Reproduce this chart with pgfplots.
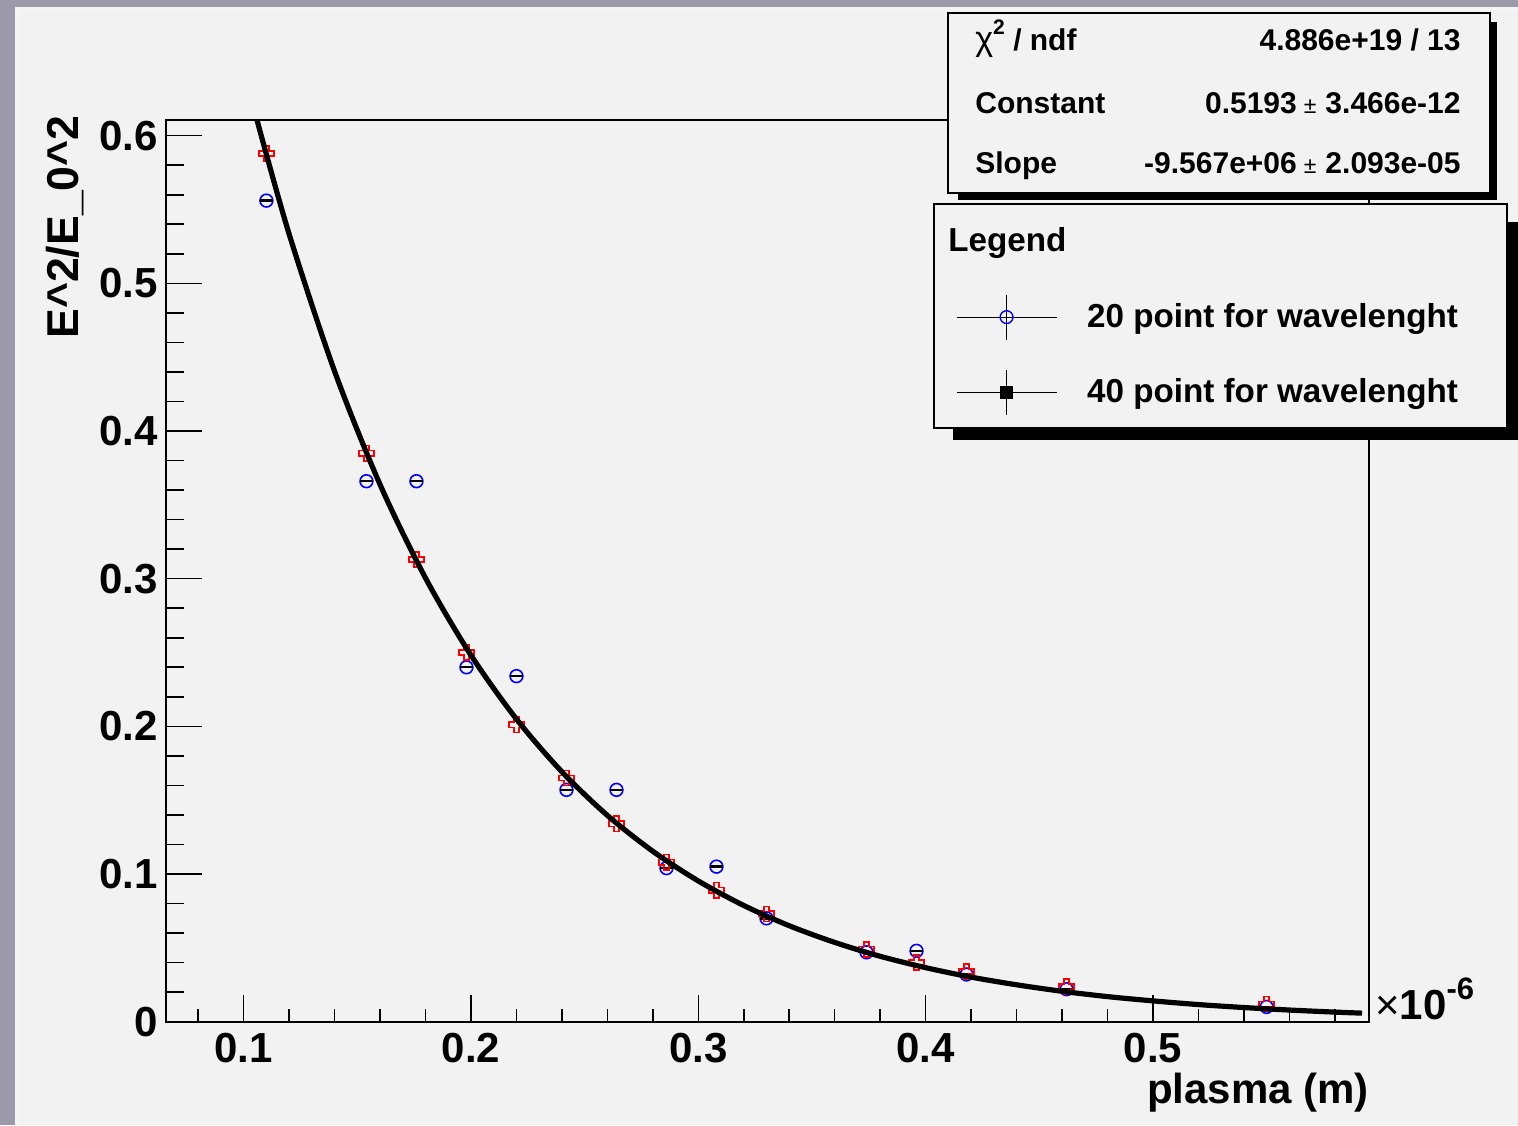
\documentclass[border=0pt]{standalone}
\usepackage{fontspec}
\setmainfont{Liberation Sans}
\usepackage{pgfplots}
\pgfplotsset{compat=1.18}
\definecolor{framegray}{RGB}{155,153,170}
\definecolor{canvas}{RGB}{242,242,242}
\pgfdeclareplotmark{ocross}{%
  \pgfpathmoveto{\pgfqpoint{-0.35\pgfplotmarksize}{\pgfplotmarksize}}%
  \pgfpathlineto{\pgfqpoint{0.35\pgfplotmarksize}{\pgfplotmarksize}}%
  \pgfpathlineto{\pgfqpoint{0.35\pgfplotmarksize}{0.35\pgfplotmarksize}}%
  \pgfpathlineto{\pgfqpoint{\pgfplotmarksize}{0.35\pgfplotmarksize}}%
  \pgfpathlineto{\pgfqpoint{\pgfplotmarksize}{-0.35\pgfplotmarksize}}%
  \pgfpathlineto{\pgfqpoint{0.35\pgfplotmarksize}{-0.35\pgfplotmarksize}}%
  \pgfpathlineto{\pgfqpoint{0.35\pgfplotmarksize}{-\pgfplotmarksize}}%
  \pgfpathlineto{\pgfqpoint{-0.35\pgfplotmarksize}{-\pgfplotmarksize}}%
  \pgfpathlineto{\pgfqpoint{-0.35\pgfplotmarksize}{-0.35\pgfplotmarksize}}%
  \pgfpathlineto{\pgfqpoint{-\pgfplotmarksize}{-0.35\pgfplotmarksize}}%
  \pgfpathlineto{\pgfqpoint{-\pgfplotmarksize}{0.35\pgfplotmarksize}}%
  \pgfpathlineto{\pgfqpoint{-0.35\pgfplotmarksize}{0.35\pgfplotmarksize}}%
  \pgfpathclose
  \pgfusepathqstroke
}
\begin{document}
\begin{tikzpicture}
\useasboundingbox (0,0) rectangle (759pt,562.5pt);
\fill[framegray] (0,0) rectangle (759pt,562.5pt);
\fill[white!96!black] (7.5pt,0) rectangle (759pt,559pt);
\fill[canvas] (9.5pt,0) rectangle (759pt,557pt);
\begin{axis}[
  at={(83pt,51.65pt)}, anchor=south west,
  width=601.65pt, height=450.85pt, scale only axis,
  clip mode=individual,
  xmin=0.06582, xmax=0.5952, ymin=0, ymax=0.6106,
  axis line style={line width=1pt},
  tick pos=left, tick align=inside,
  xtick={0.1,0.2,0.3,0.4,0.5},
  ytick={0,0.1,0.2,0.3,0.4,0.5,0.6},
  minor xtick={0.08,0.1,...,0.59},
  minor ytick={0.02,0.04,...,0.61},
  xtick style={/pgfplots/major tick length=13.5pt, /pgfplots/minor tick length=6.5pt, line width=0.8pt, black},
  ytick style={/pgfplots/major tick length=18pt, /pgfplots/minor tick length=9pt, line width=0.8pt, black},
  /pgf/number format/assume math mode=true,
  tick label style={font=\fontsize{21}{25}\selectfont\bfseries},
  xticklabel style={inner sep=0pt, yshift=-5.5pt},
  yticklabel style={inner sep=0pt, xshift=-4pt},
  xlabel={plasma (m)},
  xlabel style={at={(axis description cs:1,-0.0569)}, anchor=north east, inner sep=0pt, font=\fontsize{21}{25}\selectfont\bfseries},
  ylabel={E\textasciicircum 2/E\_0\textasciicircum 2},
  ylabel style={at={(axis description cs:-0.0839,1.0055)}, anchor=east, inner sep=0pt, font=\fontsize{22.3}{26}\selectfont\bfseries},
  legend style={at={(axis description cs:0.6565,0.8070)}, anchor=north west, draw=none, fill=none,
    inner sep=0pt, outer sep=0pt, row sep=14.5pt, nodes={inner sep=0pt},
    font=\fontsize{16.6}{19}\selectfont\bfseries,
    /tikz/every odd column/.append style={column sep=15pt}},
  legend cell align=left,
]
% 20 points per wavelength (blue circles)
\addplot[forget plot, only marks, mark=o, mark size=3.2pt, blue, mark options={line width=0.8pt}] coordinates {
(0.110,0.556) (0.154,0.366) (0.176,0.366) (0.198,0.240) (0.220,0.234)
(0.242,0.157) (0.264,0.157) (0.286,0.104) (0.308,0.105) (0.330,0.070)
(0.374,0.047) (0.396,0.048) (0.418,0.032) (0.462,0.022) (0.550,0.010)};
\addplot[forget plot, only marks, mark=-, mark size=3.2pt, black, mark options={line width=1.2pt}] coordinates {
(0.110,0.556) (0.154,0.366) (0.176,0.366) (0.198,0.240) (0.220,0.234)
(0.242,0.157) (0.264,0.157) (0.286,0.104) (0.308,0.105) (0.330,0.070)
(0.374,0.047) (0.396,0.048) (0.418,0.032) (0.462,0.022) (0.550,0.010)};
% 40 points per wavelength (red open crosses)
\addplot[forget plot, only marks, mark=ocross, mark size=3.8pt, red, mark options={line width=0.8pt}] coordinates {
(0.110,0.588) (0.154,0.385) (0.176,0.313) (0.198,0.250) (0.220,0.201)
(0.242,0.165) (0.264,0.134) (0.286,0.108) (0.308,0.089) (0.330,0.073)
(0.374,0.049) (0.396,0.040) (0.418,0.034) (0.462,0.0237) (0.550,0.0120)};
% fitted curve
\addplot[forget plot, black, line width=2.6pt, smooth] coordinates {
(0.1058,0.6109) (0.12,0.5333) (0.14,0.4404) (0.16,0.3637) (0.18,0.3004)
(0.20,0.2481) (0.22,0.2049) (0.24,0.1692) (0.26,0.1397) (0.28,0.1154)
(0.30,0.0953) (0.32,0.0787) (0.34,0.0650) (0.36,0.0537) (0.38,0.0443)
(0.40,0.0366) (0.42,0.0302) (0.44,0.0250) (0.46,0.0206) (0.48,0.0170)
(0.50,0.0141) (0.52,0.0116) (0.54,0.0096) (0.56,0.0079) (0.58,0.0065)
(0.592,0.0058)};
% stats box
\fill[black] (axis description cs:0.6582,0.9113) rectangle (axis description cs:1.1061,1.1087);
\filldraw[fill=canvas, draw=black, line width=0.7pt] (axis description cs:0.6499,0.9190) rectangle (axis description cs:1.1003,1.1187);
\node[anchor=base west, inner sep=0pt, font=\fontsize{15}{17}\selectfont\bfseries] at (axis description cs:0.6723,1.0776) {{\mdseries\fontsize{17}{17}\selectfont χ\raisebox{8pt}{\fontsize{10.5}{10}\selectfont\bfseries 2}} / ndf};
\node[anchor=base east, inner sep=0pt, font=\fontsize{15}{17}\selectfont\bfseries] at (axis description cs:1.0762,1.0776) {4.886e+19 / 13};
\node[anchor=base west, inner sep=0pt, font=\fontsize{15}{17}\selectfont\bfseries] at (axis description cs:0.6723,1.0077) {Constant};
\node[anchor=base east, inner sep=0pt, font=\fontsize{15}{17}\selectfont\bfseries] at (axis description cs:1.0762,1.0077) {0.5193\hspace{3.5pt}{\mdseries\fontsize{11.5}{10}\selectfont ±}\hspace{4.5pt}3.466e-12};
\node[anchor=base west, inner sep=0pt, font=\fontsize{15}{17}\selectfont\bfseries] at (axis description cs:0.6723,0.9410) {Slope};
\node[anchor=base east, inner sep=0pt, font=\fontsize{15}{17}\selectfont\bfseries] at (axis description cs:1.0762,0.9410) {-9.567e+06\hspace{3.5pt}{\mdseries\fontsize{11.5}{10}\selectfont ±}\hspace{4.5pt}2.093e-05};
% legend box
\fill[black] (axis description cs:0.6540,0.6451) rectangle (axis description cs:1.1236,0.8869);
\filldraw[fill=canvas, draw=black, line width=0.7pt] (axis description cs:0.6382,0.6584) rectangle (axis description cs:1.1144,0.9068);
\node[anchor=base west, inner sep=0pt, font=\fontsize{16.6}{19}\selectfont\bfseries] at (axis description cs:0.6499,0.8547) {Legend};
% x10^-6
\node[anchor=base west, inner sep=0pt, font=\fontsize{21}{25}\selectfont] at (axis description cs:1.0047,0.002) {×\textbf{10}\raisebox{10pt}{\fontsize{15.5}{16}\selectfont\bfseries -6}};
% legend entries
\addlegendimage{legend image code/.code={
  \draw[black, line width=0.6pt] (0pt,0pt) -- (50pt,0pt);
  \draw[black, line width=0.6pt] (25pt,-11.25pt) -- (25pt,11.25pt);
  \draw[blue, line width=0.7pt] (25pt,0pt) circle (3.2pt);}}
\addlegendentry{20 point for wavelenght}
\addlegendimage{legend image code/.code={
  \draw[black, line width=0.6pt] (0pt,0pt) -- (50pt,0pt);
  \draw[black, line width=0.6pt] (25pt,-11.25pt) -- (25pt,11.25pt);
  \fill[black] (22pt,-3pt) rectangle (28pt,3pt);}}
\addlegendentry{40 point for wavelenght}
\end{axis}
\end{tikzpicture}
\end{document}
